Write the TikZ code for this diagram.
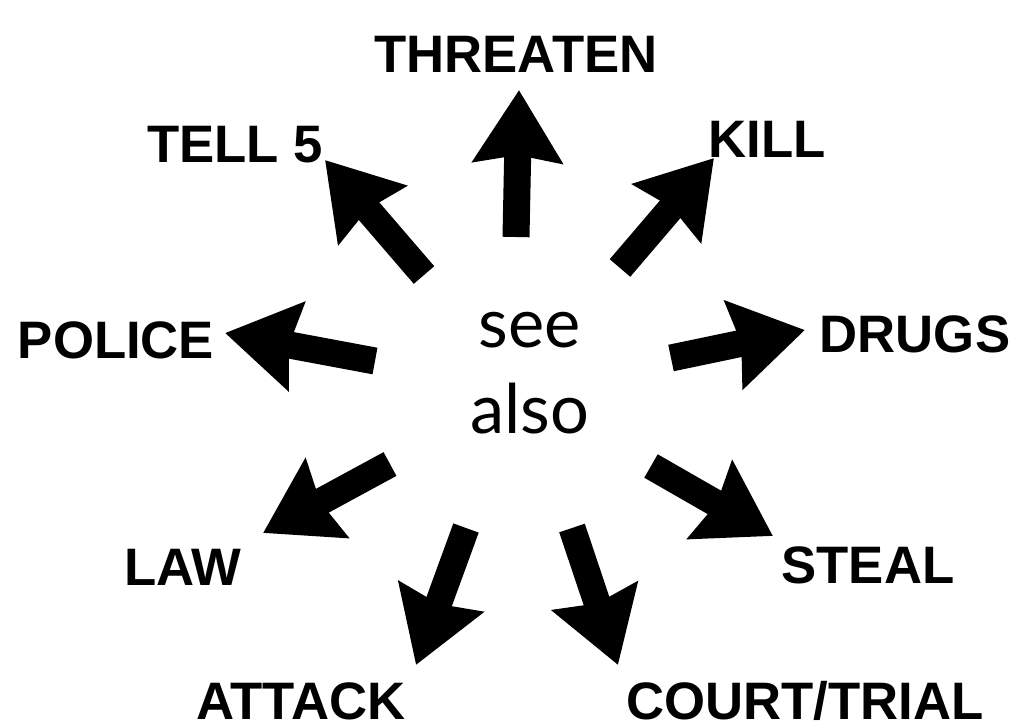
\documentclass[tikz,border=0pt]{standalone}
\usepackage{fontspec}
\usepackage{tikz}
\usetikzlibrary{
	arrows.meta,
	positioning
}
\newfontfamily\labelfont{Liberation Sans}
\newfontfamily\seefont{Lato}

\begin{document}
\begin{tikzpicture}[
				word/.style={
					anchor=base, inner sep=0pt,
					font=\labelfont\bfseries\fontsize{15}{18}\selectfont
				},
				hubtext/.style={
					anchor=base, inner sep=0pt,
					font=\seefont\fontsize{19.5}{24}\selectfont
				},
				arrow/.style={
					-{Stealth[length=0.72cm, width=0.88cm, inset=0.07cm]},
					line width=0.27cm, black
				},
				]
				\useasboundingbox (0,0) rectangle (10.12,7.26);
				
				%middle
				\node[hubtext] (see) at (5.30,3.79) {see};
				\node[hubtext] (also) at (5.30,2.93) {also};
				
				%labels
				\node[word] (threaten) at (5.16,6.54) {THREATEN};
				\node[word] (kill) at (7.67,5.69) {KILL};
				\node[word] (tell) at (2.35,5.64) {TELL 5};
				\node[word] (police) at (1.16,3.68) {POLICE};
				\node[word] (drugs) at (9.15,3.74) {DRUGS};
				\node[word] (law) at (1.83,1.41) {LAW};
				\node[word] (steal) at (8.68,1.43) {STEAL};
				\node[word] (attack) at (3.01,0.07) {ATTACK};
				\node[word] (court) at (8.05,0.07) {COURT/TRIAL};
				
				%arrow ends
				\coordinate (threatenTail) at (5.16,4.89);
				\coordinate (threatenTip) at (5.19,6.36);
				\coordinate (killTail) at (6.20,4.58);
				\coordinate (killTip) at (7.14,5.68);
				\coordinate (tellTail) at (4.24,4.51);
				\coordinate (tellTip) at (3.25,5.66);
				\coordinate (policeTail) at (3.75,3.65);
				\coordinate (policeTip) at (2.25,3.93);
				\coordinate (drugsTail) at (6.71,3.68);
				\coordinate (drugsTip) at (8.05,3.96);
				\coordinate (lawTail) at (3.90,2.62);
				\coordinate (lawTip) at (2.63,1.93);
				\coordinate (attackTail) at (4.66,1.98);
				\coordinate (attackTip) at (4.16,0.61);
				\coordinate (courtTail) at (5.72,1.98);
				\coordinate (courtTip) at (6.18,0.61);
				\coordinate (stealTail) at (6.51,2.60);
				\coordinate (stealTip) at (7.73,1.90);
				
				%arrows
				\draw[arrow] (threatenTail) -- (threatenTip);
				\draw[arrow] (killTail) -- (killTip);
				\draw[arrow] (tellTail) -- (tellTip);
				\draw[arrow] (policeTail) -- (policeTip);
				\draw[arrow] (drugsTail) -- (drugsTip);
				\draw[arrow] (lawTail) -- (lawTip);
				\draw[arrow] (attackTail) -- (attackTip);
				\draw[arrow] (courtTail) -- (courtTip);
				\draw[arrow] (stealTail) -- (stealTip);
			\end{tikzpicture}
\end{document}
